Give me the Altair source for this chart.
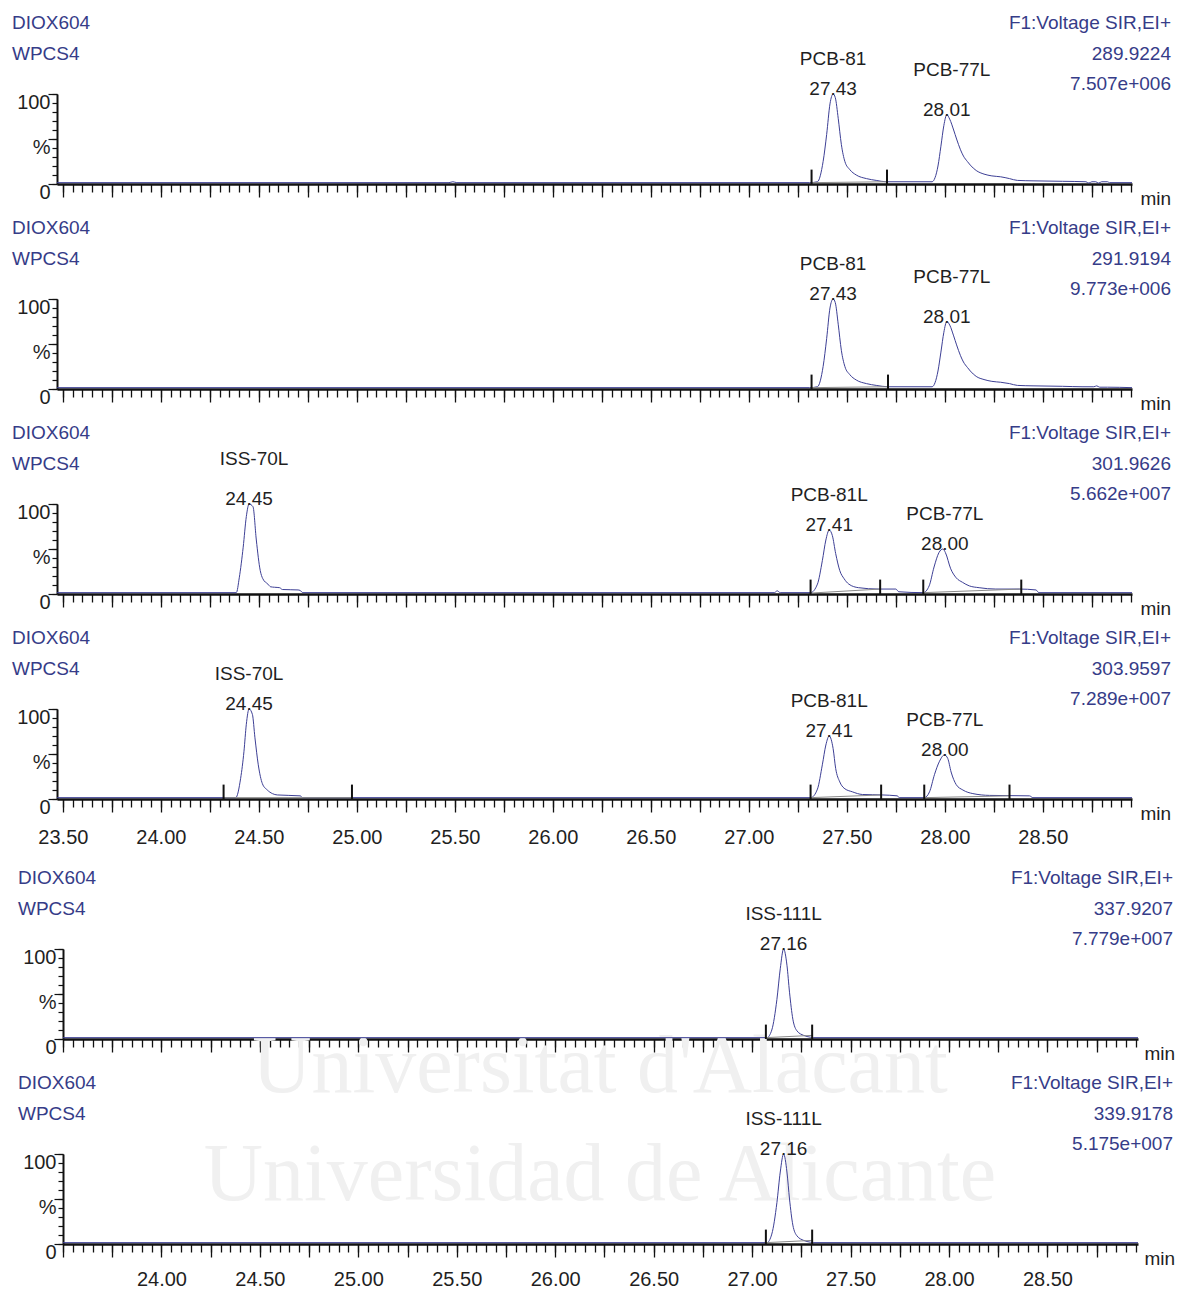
import altair as alt
import pandas as pd

FONT = "Liberation Sans, Arial, sans-serif"
SERIF = "Liberation Serif, Times New Roman, DejaVu Serif, serif"
NAVY = "#363c88"
INK = "#1f1f1f"
TRACE = "#3d3f95"

# ---------------- header texts ----------------
sample_name = "DIOX604"
sample_id = "WPCS4"
channel = "F1:Voltage SIR,EI+"
masses = ["289.9224", "291.9194", "301.9626", "303.9597", "337.9207", "339.9178"]
max_int = ["7.507e+006", "9.773e+006", "5.662e+007", "7.289e+007", "7.779e+007", "5.175e+007"]

# ---------------- traces (time in min, intensity in %) ----------------
p1_t = [23.47, 25.47, 25.49, 25.51, 27.31, 27.35, 27.379, 27.397, 27.414, 27.43, 27.441,
        27.456, 27.472, 27.49, 27.515, 27.548, 27.60, 27.65, 27.70, 27.935, 27.95, 27.965,
        27.98, 27.995, 28.01, 28.025, 28.045, 28.06, 28.08, 28.095, 28.115, 28.13, 28.16,
        28.20, 28.24, 28.285, 28.33, 28.37, 28.45, 28.60, 28.72, 28.735, 28.75, 28.77,
        28.785, 28.80, 28.83, 28.84, 28.955]
p1_v = [1.5, 1.5, 2.5, 1.5, 1.5, 2.5, 25, 55, 89, 100, 96,
        73, 44, 25, 16, 10, 6, 4, 2.5, 2.5, 7, 20,
        42, 65, 77, 72, 60, 50, 38, 31, 25, 21, 15,
        11, 9, 8, 6, 4, 3.5, 3, 2.5, 1, 2.5, 2.5,
        1, 2.5, 2.5, 1.5, 1.5]

p2_t = [23.47, 27.31, 27.35, 27.379, 27.397, 27.414, 27.43, 27.441, 27.456, 27.472, 27.49,
        27.515, 27.548, 27.60, 27.65, 27.71, 27.935, 27.95, 27.965, 27.98, 27.995, 28.01,
        28.025, 28.045, 28.06, 28.08, 28.095, 28.115, 28.13, 28.16, 28.20, 28.24, 28.285,
        28.33, 28.37, 28.45, 28.60, 28.70, 28.76, 28.775, 28.79, 28.83, 28.955]
p2_v = [1.5, 1.5, 2.5, 25, 56, 90, 100, 96, 72, 43, 25,
        16, 10, 6, 4, 2.5, 2.5, 7, 20, 41, 63, 75,
        71, 59, 49, 37, 30, 24, 20, 14, 10.5, 8.5, 7.5,
        6, 4, 3.5, 3, 2.5, 2.5, 3.5, 2, 2, 1.5]

p3_t = [23.47, 24.385, 24.40, 24.42, 24.436, 24.45, 24.47, 24.487, 24.507, 24.52, 24.546,
        24.56, 24.58, 24.606, 24.62, 24.70, 24.71, 24.725, 27.13, 27.145, 27.16, 27.315,
        27.35, 27.375, 27.393, 27.41, 27.426, 27.443, 27.464, 27.486, 27.51, 27.56, 27.66,
        27.75, 27.765, 27.89, 27.92, 27.945, 27.97, 27.99, 28.003, 28.03, 28.058, 28.09,
        28.125, 28.175, 28.26, 28.38, 28.465, 28.48, 28.955]
p3_v = [1.5, 1.5, 18, 52, 86, 100, 97, 60, 26, 17, 11,
        8, 7.5, 7, 5, 4.5, 4, 1.5, 1.5, 3.5, 1.5, 1.5,
        11, 37, 60, 71, 65, 45, 26, 17, 11, 7, 5.5,
        5.5, 2.5, 1.5, 9, 30, 46, 50, 46, 28, 18, 13,
        9, 7, 5.5, 5.5, 4.5, 1.5, 1.5]

p4_t = [23.47, 24.382, 24.407, 24.424, 24.436, 24.45, 24.467, 24.48, 24.497, 24.518, 24.543,
        24.569, 24.594, 24.712, 24.722, 27.316, 27.35, 27.375, 27.393, 27.41, 27.43, 27.443,
        27.464, 27.486, 27.528, 27.58, 27.68, 27.758, 27.767, 27.895, 27.922, 27.947, 27.973,
        27.998, 28.015, 28.032, 28.058, 28.092, 28.143, 28.228, 28.432, 28.449, 28.955]
p4_v = [1.5, 1.5, 23, 53, 83, 100, 94, 68, 38, 17, 10,
        6, 4.5, 3.5, 1.5, 1.5, 11, 38, 60, 70, 56, 34,
        19, 12, 8, 5, 4.5, 3.5, 1.5, 1.5, 8, 27, 42,
        49, 45, 30, 16, 10, 6, 4, 3.5, 1.5, 1.5]

p5_t = [23.50, 27.075, 27.10, 27.126, 27.143, 27.16, 27.177, 27.19, 27.207, 27.228, 27.262,
        27.296, 27.31, 28.96]
p5_v = [1.5, 1.5, 10, 44, 78, 100, 82, 52, 22, 9, 4,
        2, 1.5, 1.5]

p6_t = [23.50, 27.075, 27.10, 27.126, 27.143, 27.16, 27.177, 27.19, 27.207, 27.228, 27.262,
        27.296, 27.31, 28.96]
p6_v = [1.5, 1.5, 11, 46, 80, 100, 80, 50, 21, 9, 4,
        2, 1.5, 1.5]

traces = [(p1_t, p1_v), (p2_t, p2_v), (p3_t, p3_v), (p4_t, p4_v), (p5_t, p5_v), (p6_t, p6_v)]

# ---------------- integration markers ----------------
int_ticks = [
    [27.32, 27.705],
    [27.32, 27.71],
    [27.315, 27.67, 27.89, 28.39],
    [24.32, 24.975, 27.315, 27.675, 27.895, 28.33],
    [27.07, 27.305],
    [27.07, 27.305],
]
# integration baselines: (start time, start %, end time, end %)
int_base = [
    [(27.32, 1.5, 27.705, 2.5)],
    [(27.32, 1.5, 27.71, 2.5)],
    [(27.315, 1.0, 27.67, 5.5), (27.89, 1.5, 28.39, 5.5)],
    [(24.32, 1.5, 24.975, 1.5), (27.315, 1.5, 27.675, 4.5), (27.895, 1.5, 28.33, 3.5)],
    [(27.07, 1.5, 27.305, 4.0)],
    [(27.07, 1.5, 27.305, 4.0)],
]

# ---------------- peak labels: (name, retention time, apex %, label layout) ----------------
peaks = [
    [("PCB-81", 27.43, 100, "near"), ("PCB-77L", 28.01, 77, "far")],
    [("PCB-81", 27.43, 100, "near"), ("PCB-77L", 28.01, 75, "far")],
    [("ISS-70L", 24.45, 100, "far"), ("PCB-81L", 27.41, 71, "near"), ("PCB-77L", 28.00, 50, "near")],
    [("ISS-70L", 24.45, 100, "near"), ("PCB-81L", 27.41, 70, "near"), ("PCB-77L", 28.00, 49, "near")],
    [("ISS-111L", 27.16, 100, "near")],
    [("ISS-111L", 27.16, 100, "near")],
]

X_MINOR = [round(23.50 + 0.05 * i, 2) for i in range(110)]
X_MAJOR = [round(23.50 + 0.25 * i, 2) for i in range(22)]
Y_MINOR = [0, 10, 20, 30, 40, 50, 60, 70, 80, 90, 100]
Y_MAJOR = [0, 50, 100]

TOP_DOMAIN = [23.47, 28.955]
BOT_DOMAIN = [23.50, 28.96]
W_TOP = 1075
W_BOT = 1075
H = 90


def txt(s, x, y, align, font, size, color):
    return alt.Chart(pd.DataFrame({"s": [s]})).mark_text(
        align=align, baseline="middle", font=font, fontSize=size, color=color
    ).encode(x=alt.value(x), y=alt.value(y), text="s:N")


def make_panel(k, domain, width, label_from=None, label_pad=15, right_gap=39,
               min_gap=8, watermark=False):
    t, v = traces[k]
    xs = alt.Scale(domain=domain, nice=False, zero=False)
    ys = alt.Scale(domain=[0, 100], nice=False, zero=False)
    if label_from is None:
        lab_expr = "''"
    else:
        lab_expr = ("(abs(datum.value*2 - round(datum.value*2)) < 0.001 && datum.value >= %s - 0.001)"
                    " ? format(datum.value, '.2f') : ''" % label_from)
    x_major = alt.Axis(
        orient="bottom", values=X_MAJOR, labelExpr=lab_expr, labelFlush=False, labelOverlap=False,
        tickSize=13, tickColor="#111", tickWidth=1.3, domainColor="#111", domainWidth=2.6,
        labelFont=FONT, labelFontSize=20, labelColor=INK, labelPadding=label_pad, labelBaseline="top",
        grid=False, title="min", titleX=width + min_gap, titleY=14, titleAlign="left",
        titleBaseline="middle", titleFont=FONT, titleFontSize=19, titleFontWeight="normal",
        titleColor=INK, titleAngle=0,
    )
    x_minor = alt.Axis(
        orient="bottom", values=X_MINOR, labels=False, tickSize=8, tickColor="#111",
        tickWidth=1.3, domain=False, grid=False, title=None,
    )
    y_major = alt.Axis(
        orient="left", values=Y_MAJOR,
        labelExpr="datum.value == 100 ? '100' : datum.value == 50 ? '%' : '0'",
        tickSize=9, tickColor="#111", tickWidth=1.2, domainColor="#111", domainWidth=2,
        labelBaseline="top", labelPadding=-2, labelOffset=-2, labelFont=FONT, labelFontSize=20,
        labelColor=INK, labelOverlap=False, grid=False, title=None,
    )
    y_minor = alt.Axis(
        orient="left", values=Y_MINOR, labels=False, tickSize=5, tickColor="#111",
        tickWidth=1.2, domain=False, grid=False, title=None,
    )
    layers = []
    if watermark:
        layers.append(txt("Universitat d'Alacant", 537, 118, "center", SERIF, 82, "#f0f0f0"))
        layers.append(txt("Universidad de Alicante", 537, 226, "center", SERIF, 82, "#f0f0f0"))

    trace_df = pd.DataFrame({"t": t, "v": v})
    layers.append(
        alt.Chart(trace_df).mark_line(opacity=0).encode(
            x=alt.X("t:Q", scale=xs, axis=x_minor), y=alt.Y("v:Q", scale=ys, axis=y_minor)
        )
    )
    layers.append(
        alt.Chart(trace_df).mark_line(color=TRACE, strokeWidth=1, interpolate="monotone").encode(
            x=alt.X("t:Q", scale=xs, axis=x_major), y=alt.Y("v:Q", scale=ys, axis=y_major)
        )
    )
    base_df = pd.DataFrame(int_base[k], columns=["t0", "v0", "t1", "v1"])
    layers.append(
        alt.Chart(base_df).mark_rule(color="#8a8a8a", strokeWidth=1).encode(
            x=alt.X("t0:Q", axis=None), x2="t1:Q", y=alt.Y("v0:Q", axis=None), y2="v1:Q"
        )
    )
    tick_df = pd.DataFrame({"t": int_ticks[k]})
    layers.append(
        alt.Chart(tick_df).mark_rule(color="#111", strokeWidth=2).encode(
            x=alt.X("t:Q", axis=None), y=alt.YDatum(0, axis=None), y2=alt.Y2Datum(16)
        )
    )
    pk = pd.DataFrame(peaks[k], columns=["name", "rt", "apex", "layout"])
    pk["rtlab"] = pk["rt"].map(lambda r: "%.2f" % r)
    layers.append(
        alt.Chart(pk).mark_text(baseline="middle", dy=-5, font=FONT, fontSize=19, color=INK).encode(
            x=alt.X("rt:Q", axis=None), y=alt.Y("apex:Q", axis=None), text="rtlab:N"
        )
    )
    layers.append(
        alt.Chart(pk).transform_filter("datum.layout == 'near'").mark_text(
            baseline="middle", dy=-35, font=FONT, fontSize=19, color=INK
        ).encode(x=alt.X("rt:Q", axis=None), y=alt.Y("apex:Q", axis=None), text="name:N")
    )
    layers.append(
        alt.Chart(pk).transform_filter("datum.layout == 'far'").mark_text(
            baseline="middle", dy=-45, dx=5, font=FONT, fontSize=19, color=INK
        ).encode(x=alt.X("rt:Q", axis=None), y=alt.Y("apex:Q", axis=None), text="name:N")
    )
    layers.append(txt(sample_name, -45, -71, "left", FONT, 19, NAVY))
    layers.append(txt(sample_id, -45, -40, "left", FONT, 19, NAVY))
    layers.append(txt(channel, width + right_gap, -71, "right", FONT, 19, NAVY))
    layers.append(txt(masses[k], width + right_gap, -40, "right", FONT, 19, NAVY))
    layers.append(txt(max_int[k], width + right_gap, -10, "right", FONT, 19, NAVY))
    return alt.layer(*layers).resolve_axis(x="independent", y="independent").properties(
        width=width, height=H
    )


p1 = make_panel(0, TOP_DOMAIN, W_TOP)
p2 = make_panel(1, TOP_DOMAIN, W_TOP)
p3 = make_panel(2, TOP_DOMAIN, W_TOP)
p4 = make_panel(3, TOP_DOMAIN, W_TOP, label_from="23.5")
p5 = make_panel(4, BOT_DOMAIN, W_BOT, right_gap=35, min_gap=6, watermark=True)
p6 = make_panel(5, BOT_DOMAIN, W_BOT, label_from="24.0", label_pad=12, right_gap=35, min_gap=6)

spacer = alt.Chart(pd.DataFrame({"a": [0]})).mark_point(opacity=0).encode(
    x=alt.value(0), y=alt.value(0)
).properties(width=1, height=1)

group_a = alt.vconcat(p1, p2, p3, p4, spacing=115, bounds="flush")
group_b = alt.hconcat(spacer, alt.vconcat(p5, p6, spacing=115, bounds="flush"),
                      spacing=5, bounds="flush")

chart = alt.vconcat(group_a, group_b, spacing=22, bounds="full").properties(
    padding={"left": 4, "top": 6, "right": 0, "bottom": 0},
    background="white",
).configure_view(stroke=None)

chart.save("out.html", embed_options={"renderer": "svg", "actions": False})
